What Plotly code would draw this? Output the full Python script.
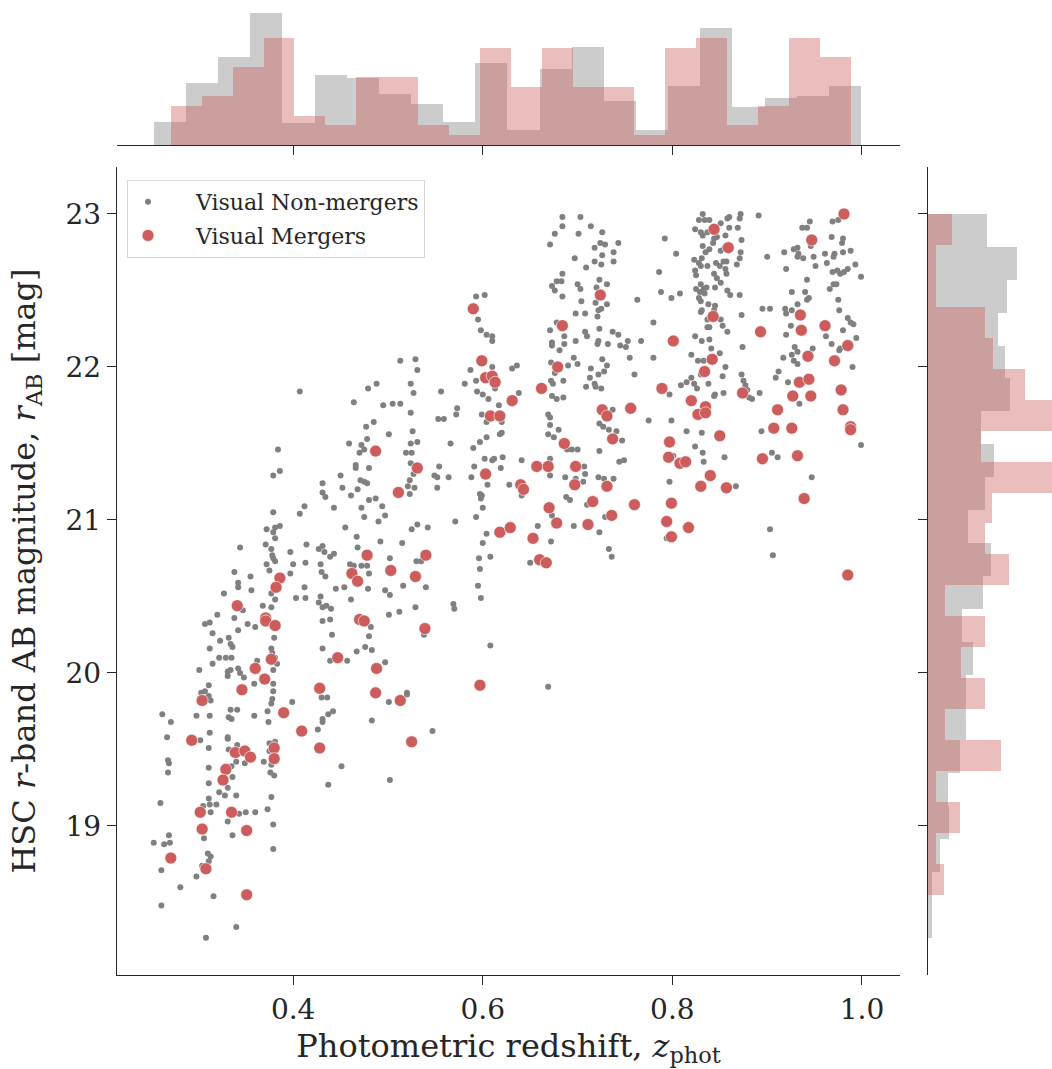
import numpy as np
import plotly.graph_objects as go

# ---------------------------------------------------------------------------
# Visual non-mergers: photometric redshift and HSC r-band AB magnitude
# ---------------------------------------------------------------------------
nonmerger_z = [
    0.407, 0.479, 0.488, 0.464, 0.495, 0.477, 0.485, 0.459, 0.472, 0.478,
    # z ~ 0.67-0.76 strip
    0.684, 0.703, 0.684, 0.714, 0.676, 0.701, 0.726, 0.671, 0.718, 0.724,
    0.729, 0.743, 0.738, 0.697, 0.709, 0.718, 0.726, 0.725, 0.738, 0.684,
    0.678, 0.683, 0.673, 0.676, 0.700, 0.703, 0.723, 0.720, 0.731, 0.684,
    0.704, 0.719, 0.731, 0.722, 0.725, 0.721, 0.698, 0.708, 0.671, 0.678,
    0.686, 0.708, 0.710, 0.723, 0.737, 0.743, 0.698, 0.673, 0.673, 0.686,
    0.681, 0.721, 0.722, 0.732, 0.745, 0.751, 0.753, 0.755, 0.672, 0.696,
    0.700, 0.690, 0.714, 0.726, 0.731, 0.722, 0.728, 0.676, 0.685, 0.713,
    0.709, 0.718, 0.719, 0.725, 0.672, 0.674, 0.673, 0.678, 0.685, 0.669,
    0.671, 0.671, 0.680, 0.669, 0.675, 0.737, 0.723, 0.727, 0.733, 0.741,
    0.747,
    # z ~ 0.50-0.64, bright end
    0.593, 0.602, 0.595, 0.598, 0.604, 0.610, 0.610, 0.513, 0.529, 0.531,
    0.524, 0.527, 0.505, 0.513, 0.524, 0.556, 0.573, 0.572, 0.553,
    0.559, 0.526, 0.501, 0.524, 0.531, 0.566, 0.587, 0.593, 0.610, 0.581,
    0.594, 0.600, 0.606, 0.613, 0.617, 0.631, 0.636, 0.638, 0.599, 0.604,
    0.620, 0.618, 0.620, 0.604, 0.597,
    # z ~ 0.79-0.89 strip
    0.832, 0.828, 0.834, 0.839, 0.851, 0.858, 0.860, 0.872, 0.871, 0.860,
    0.869, 0.824, 0.830, 0.837, 0.832, 0.844, 0.847, 0.856, 0.843, 0.873,
    0.792, 0.804, 0.832, 0.839, 0.835, 0.851, 0.855, 0.872, 0.871, 0.823,
    0.831, 0.828, 0.830, 0.837, 0.846, 0.850, 0.854, 0.857, 0.868, 0.824,
    0.825, 0.844, 0.847, 0.856, 0.857, 0.851, 0.845, 0.825, 0.830, 0.833,
    0.836, 0.829, 0.834, 0.858, 0.861, 0.871, 0.828, 0.830, 0.838, 0.845,
    0.831, 0.830, 0.844, 0.873, 0.837, 0.851, 0.853, 0.837, 0.839, 0.858,
    0.824, 0.831, 0.839, 0.841, 0.850, 0.820, 0.827, 0.833, 0.856, 0.830,
    0.853, 0.838, 0.820, 0.815, 0.809, 0.823, 0.826, 0.844, 0.845, 0.854,
    0.873, 0.875, 0.877, 0.879, 0.875, 0.881, 0.884, 0.892,
    0.763, 0.788, 0.799, 0.808, 0.780, 0.767, 0.780, 0.760, 0.797,
    0.775, 0.799, 0.815, 0.831, 0.786, 0.874,
    # z ~ 0.89-1.00 strip
    0.891, 0.945, 0.937, 0.942, 0.975, 0.969, 0.968, 0.980, 0.979, 0.946,
    0.918, 0.928, 0.932, 0.933, 0.932, 0.938, 0.949, 0.961, 0.970, 0.971,
    0.980, 0.988, 0.993, 0.999, 0.900, 0.920, 0.951, 0.963, 0.969, 0.974,
    0.977, 0.981, 0.985, 0.942, 0.970, 0.973, 0.966, 0.926, 0.940, 0.942,
    0.944, 0.932, 0.895, 0.903, 0.919, 0.920, 0.926, 0.975, 0.976, 0.985,
    0.988, 0.980, 0.991, 0.994, 0.962, 0.968, 0.976, 0.977, 0.990, 0.925,
    0.920, 0.929, 0.932, 0.948, 0.926, 0.928, 0.932, 0.917, 0.912, 0.909,
    0.922, 0.934, 0.894, 0.999,
    # z ~ 0.30-0.50, r ~ 19.9-21.5
    0.384, 0.470, 0.475, 0.379, 0.386, 0.466, 0.466, 0.480, 0.450,
    0.431, 0.452, 0.468, 0.471, 0.475, 0.478, 0.431, 0.434, 0.461, 0.480,
    0.487, 0.494, 0.497, 0.443, 0.412, 0.407, 0.472, 0.475, 0.490, 0.379,
    0.455, 0.386, 0.381, 0.372, 0.379, 0.381, 0.467, 0.468, 0.492, 0.371,
    0.344, 0.414, 0.427, 0.431, 0.433, 0.443, 0.439, 0.397, 0.378, 0.377,
    0.379, 0.381, 0.372, 0.375, 0.400, 0.413, 0.429, 0.460, 0.464, 0.472,
    0.478, 0.430, 0.434, 0.397, 0.480, 0.338, 0.355, 0.342, 0.342, 0.356,
    0.412, 0.445, 0.454, 0.479, 0.497, 0.377, 0.381, 0.327, 0.403, 0.413,
    0.429, 0.427, 0.431, 0.435, 0.440, 0.461, 0.368, 0.377, 0.347, 0.338,
    0.320, 0.312, 0.307, 0.352, 0.360, 0.431, 0.439, 0.482, 0.315, 0.323,
    0.332, 0.334, 0.336, 0.342, 0.380, 0.441, 0.480, 0.312, 0.322, 0.329,
    0.335, 0.377, 0.378, 0.381, 0.362, 0.383, 0.431, 0.439, 0.457, 0.467,
    0.476, 0.483, 0.497, 0.301, 0.315, 0.331, 0.331, 0.334, 0.342, 0.344,
    0.348, 0.379, 0.379, 0.359, 0.311, 0.303, 0.307, 0.379,
    # z ~ 0.50-0.75, r ~ 19.9-21.5
    0.519, 0.525, 0.590, 0.527, 0.524, 0.554,
    0.564, 0.549, 0.552, 0.552, 0.521, 0.523, 0.528, 0.523,
    0.602, 0.612, 0.621, 0.610, 0.591, 0.619, 0.588, 0.605, 0.597, 0.599,
    0.598, 0.600, 0.593, 0.641, 0.628, 0.641, 0.671, 0.671, 0.689, 0.694,
    0.700, 0.723, 0.744, 0.749, 0.707, 0.708, 0.706, 0.698, 0.687, 0.722,
    0.728, 0.738, 0.688, 0.692, 0.710, 0.729, 0.673, 0.696, 0.723, 0.658,
    0.672, 0.571, 0.531, 0.525, 0.542, 0.604, 0.515, 0.600, 0.608, 0.502,
    0.530, 0.535, 0.596, 0.597, 0.650, 0.733, 0.736, 0.516, 0.540,
    0.502, 0.595, 0.598, 0.569, 0.570, 0.529, 0.512, 0.501, 0.538, 0.608,
    0.669, 0.520,
    # z ~ 0.79-0.95, r ~ 20.8-21.5
    0.824, 0.832, 0.833, 0.855, 0.801, 0.797, 0.867, 0.905, 0.911, 0.947,
    0.903, 0.906, 0.794,
    # faint end, z ~ 0.25-0.48
    0.311, 0.313, 0.378, 0.399, 0.377, 0.373, 0.374, 0.334, 0.341, 0.332,
    0.335, 0.359, 0.298, 0.312, 0.262, 0.271, 0.267, 0.312, 0.302, 0.331,
    0.331, 0.341, 0.311, 0.332, 0.375, 0.381, 0.375, 0.369, 0.377, 0.340,
    0.349, 0.335, 0.268, 0.269, 0.268, 0.311, 0.311, 0.336, 0.376, 0.380,
    0.331, 0.322, 0.328, 0.340, 0.377, 0.311, 0.305, 0.312, 0.319, 0.313,
    0.343, 0.350, 0.360, 0.373, 0.331, 0.379, 0.260, 0.269, 0.253, 0.264,
    0.270, 0.306, 0.336, 0.379, 0.310, 0.313, 0.311, 0.304, 0.261, 0.298,
    0.281, 0.316, 0.261, 0.340, 0.308, 0.426, 0.431, 0.431, 0.437, 0.442,
    0.430, 0.436, 0.483, 0.451, 0.437,
    0.501, 0.520, 0.547, 0.502,
]

nonmerger_r = [
    21.84, 21.86, 21.89, 21.77, 21.75, 21.61, 21.64, 21.50, 21.49, 21.53,
    22.98, 22.98, 22.92, 22.92, 22.87, 22.87, 22.88, 22.80, 22.78, 22.81,
    22.80, 22.81, 22.75, 22.71, 22.65, 22.69, 22.73, 22.67, 22.69, 22.61,
    22.56, 22.56, 22.53, 22.50, 22.54, 22.51, 22.57, 22.52, 22.54, 22.46,
    22.43, 22.42, 22.41, 22.37, 22.38, 22.33, 22.35, 22.35, 22.24, 22.29,
    22.20, 22.23, 22.20, 22.25, 22.23, 22.21, 22.17, 22.16, 22.14, 22.15,
    22.11, 22.15, 22.17, 22.15, 22.14, 22.13, 22.17, 22.06, 22.03, 22.06,
    22.02, 22.01, 21.99, 22.05, 22.01, 21.95, 21.97, 21.96, 21.91, 21.93,
    21.87, 21.89, 21.87, 21.86, 21.91, 21.89, 21.81, 21.79, 21.80, 21.69,
    21.67, 21.62, 21.59, 21.56, 21.54, 21.72, 21.63, 21.61, 21.59, 21.58,
    21.52,
    22.46, 22.47, 22.31, 22.24, 22.21, 22.20, 22.17, 22.04, 22.05, 21.98,
    21.89, 21.83, 21.76, 21.76, 21.70, 21.84, 21.73, 21.69, 21.66,
    21.66, 21.58, 21.56, 21.50, 21.51, 21.50, 21.98, 21.91, 22.00, 21.89,
    21.84, 21.82, 21.79, 21.86, 21.75, 21.99, 22.01, 21.83, 21.69, 21.64,
    21.64, 21.56, 21.57, 21.54, 21.51,
    23.00, 22.96, 22.96, 22.96, 22.94, 22.97, 22.98, 23.00, 22.97, 22.91,
    22.91, 22.90, 22.88, 22.88, 22.86, 22.84, 22.85, 22.86, 22.81, 22.83,
    22.84, 22.74, 22.79, 22.77, 22.75, 22.76, 22.78, 22.75, 22.71, 22.70,
    22.71, 22.68, 22.66, 22.66, 22.68, 22.66, 22.69, 22.69, 22.67, 22.63,
    22.60, 22.61, 22.58, 22.64, 22.61, 22.55, 22.52, 22.51, 22.54, 22.51,
    22.52, 22.49, 22.48, 22.50, 22.47, 22.47, 22.45, 22.43, 22.41, 22.40,
    22.37, 22.36, 22.37, 22.34, 22.31, 22.31, 22.27, 22.26, 22.26, 22.23,
    22.20, 22.17, 22.18, 22.12, 22.09, 22.08, 22.04, 22.04, 22.00, 21.95,
    21.94, 21.89, 21.93, 21.90, 21.88, 21.89, 21.86, 21.81, 21.82, 21.83,
    21.95, 21.91, 21.88, 21.85, 21.82, 21.80, 21.79, 21.83,
    22.44, 22.49, 22.45, 22.48, 22.29, 22.17, 22.06, 21.95, 21.82,
    21.65, 21.65, 21.58, 21.57, 22.62, 22.13,
    22.99, 22.95, 22.91, 22.91, 22.96, 22.95, 22.85, 22.84, 22.81, 22.79,
    22.75, 22.77, 22.78, 22.74, 22.72, 22.71, 22.72, 22.74, 22.72, 22.74,
    22.75, 22.76, 22.67, 22.59, 22.72, 22.64, 22.66, 22.68, 22.62, 22.63,
    22.61, 22.62, 22.64, 22.57, 22.54, 22.54, 22.51, 22.49, 22.49, 22.44,
    22.45, 22.41, 22.38, 22.38, 22.38, 22.35, 22.37, 22.44, 22.37, 22.32,
    22.29, 22.24, 22.28, 22.19, 22.20, 22.15, 22.11, 22.12, 22.00, 22.27,
    22.21, 22.13, 22.10, 22.12, 22.08, 22.04, 22.02, 22.06, 21.97, 21.93,
    21.90, 21.76, 21.58, 21.49,
    21.46, 21.44, 21.46, 21.29, 21.32, 21.36, 21.34, 21.34, 21.29,
    21.24, 21.21, 21.20, 21.26, 21.25, 21.24, 21.18, 21.15, 21.16, 21.13,
    21.14, 21.09, 21.03, 21.08, 21.09, 21.04, 21.08, 21.02, 20.99, 21.05,
    20.95, 20.96, 20.95, 20.94, 20.92, 20.88, 20.89, 20.82, 20.86, 20.84,
    20.82, 20.84, 20.81, 20.83, 20.79, 20.78, 20.76, 20.79, 20.77, 20.81,
    20.75, 20.73, 20.71, 20.67, 20.71, 20.72, 20.71, 20.71, 20.70, 20.70,
    20.70, 20.66, 20.63, 20.65, 20.65, 20.66, 20.63, 20.59, 20.56, 20.54,
    20.56, 20.55, 20.56, 20.55, 20.54, 20.52, 20.48, 20.52, 20.49, 20.49,
    20.50, 20.46, 20.43, 20.44, 20.42, 20.48, 20.44, 20.43, 20.41, 20.36,
    20.38, 20.33, 20.32, 20.32, 20.30, 20.34, 20.35, 20.30, 20.26, 20.21,
    20.23, 20.19, 20.17, 20.28, 20.23, 20.25, 20.24, 20.16, 20.10, 20.10,
    20.10, 20.16, 20.13, 20.10, 20.08, 20.06, 20.16, 20.08, 20.08, 20.14,
    20.17, 20.15, 20.07, 20.02, 20.06, 20.01, 19.98, 20.02, 20.03, 20.00,
    19.97, 20.02, 19.93, 19.93, 19.92, 19.87, 19.88, 19.88,
    21.44, 21.44, 21.47, 21.30, 21.37, 21.35,
    21.28, 21.29, 21.28, 21.21, 21.22, 21.26, 21.21, 21.17,
    21.40, 21.40, 21.41, 21.39, 21.35, 21.34, 21.28, 21.23, 21.17, 21.16,
    21.14, 21.08, 21.02, 21.39, 21.23, 21.16, 21.40, 21.29, 21.46, 21.46,
    21.46, 21.45, 21.38, 21.39, 21.35, 21.30, 21.25, 21.27, 21.28, 21.28,
    21.27, 21.27, 21.15, 21.13, 21.10, 21.02, 21.03, 20.96, 20.92, 20.96,
    20.86, 20.99, 20.97, 20.94, 20.95, 20.91, 20.85, 20.85, 20.76, 20.75,
    20.73, 20.73, 20.75, 20.68, 20.72, 20.81, 20.76, 20.57, 20.56,
    20.51, 20.57, 20.49, 20.45, 20.42, 20.43, 20.40, 20.38, 20.25, 20.18,
    19.91, 19.87,
    21.48, 21.44, 21.38, 21.41, 21.42, 21.25, 21.22, 21.44, 21.41, 21.28,
    20.94, 20.77, 20.88,
    19.85, 19.82, 19.83, 19.81, 19.80, 19.75, 19.68, 19.76, 19.76, 19.71,
    19.70, 19.72, 19.72, 19.72, 19.73, 19.68, 19.58, 19.61, 19.56, 19.58,
    19.57, 19.53, 19.51, 19.50, 19.54, 19.55, 19.49, 19.42, 19.40, 19.42,
    19.41, 19.39, 19.43, 19.41, 19.35, 19.38, 19.28, 19.32, 19.35, 19.33,
    19.25, 19.22, 19.20, 19.20, 19.19, 19.18, 19.13, 19.14, 19.14, 19.09,
    19.08, 19.09, 19.09, 19.11, 19.03, 19.01, 19.15, 18.94, 18.89, 18.88,
    18.89, 18.92, 18.94, 18.85, 18.82, 18.80, 18.77, 18.74, 18.71, 18.67,
    18.60, 18.54, 18.48, 18.34, 18.27, 19.63, 19.70, 19.68, 19.73, 19.75,
    19.84, 19.84, 19.69, 19.39, 19.27,
    19.81, 19.86, 19.62, 19.30,
]

# ---------------------------------------------------------------------------
# Visual mergers
# ---------------------------------------------------------------------------
merger_z = [
    0.590, 0.724, 0.684, 0.599, 0.679, 0.603, 0.610, 0.613, 0.662, 0.631,
    0.608, 0.618, 0.726, 0.731, 0.756, 0.686, 0.737, 0.981, 0.844, 0.947,
    0.859, 0.843, 0.935, 0.893, 0.936, 0.961, 0.801, 0.985, 0.842, 0.943,
    0.971, 0.834, 0.789, 0.934, 0.944, 0.874, 0.820, 0.978, 0.927, 0.946,
    0.835, 0.827, 0.835, 0.911, 0.980, 0.907, 0.926, 0.988, 0.988, 0.797,
    0.850, 0.531, 0.511, 0.603, 0.657, 0.669, 0.698, 0.640, 0.643, 0.697,
    0.731, 0.716, 0.670, 0.678, 0.711, 0.736, 0.760, 0.618, 0.629, 0.653,
    0.540, 0.503, 0.529, 0.660, 0.667, 0.539, 0.597, 0.796, 0.808, 0.814,
    0.840, 0.830, 0.857, 0.895, 0.932, 0.939, 0.799, 0.794, 0.817, 0.799,
    0.985, 0.487, 0.478, 0.462, 0.468, 0.386, 0.382, 0.341, 0.371, 0.371,
    0.381, 0.470, 0.475, 0.377, 0.447, 0.360, 0.370, 0.488, 0.346, 0.428,
    0.487, 0.304, 0.390, 0.409, 0.428, 0.293, 0.339, 0.349, 0.355, 0.380,
    0.380, 0.329, 0.326, 0.302, 0.335, 0.304, 0.351, 0.271, 0.308, 0.351,
    0.513, 0.525,
]

merger_r = [
    22.38, 22.47, 22.27, 22.04, 22.00, 21.93, 21.94, 21.90, 21.86, 21.78,
    21.68, 21.68, 21.72, 21.68, 21.73, 21.50, 21.53, 23.00, 22.90, 22.83,
    22.78, 22.33, 22.34, 22.23, 22.24, 22.27, 22.17, 22.14, 22.05, 22.07,
    22.04, 21.97, 21.86, 21.90, 21.92, 21.83, 21.78, 21.85, 21.81, 21.81,
    21.74, 21.69, 21.70, 21.72, 21.72, 21.60, 21.60, 21.61, 21.59, 21.51,
    21.55, 21.34, 21.18, 21.30, 21.35, 21.35, 21.35, 21.23, 21.20, 21.23,
    21.22, 21.12, 21.08, 20.98, 20.97, 21.03, 21.10, 20.92, 20.95, 20.88,
    20.77, 20.67, 20.63, 20.74, 20.72, 20.29, 19.92, 21.41, 21.37, 21.38,
    21.29, 21.22, 21.21, 21.40, 21.42, 21.14, 21.11, 20.99, 20.95, 20.89,
    20.64, 21.45, 20.77, 20.65, 20.60, 20.62, 20.56, 20.44, 20.36, 20.34,
    20.31, 20.35, 20.34, 20.09, 20.10, 20.03, 19.96, 20.03, 19.89, 19.90,
    19.87, 19.82, 19.74, 19.62, 19.51, 19.56, 19.48, 19.49, 19.45, 19.51,
    19.44, 19.37, 19.30, 19.09, 19.09, 18.98, 18.97, 18.79, 18.72, 18.55,
    19.82, 19.55,
]

# ---------------------------------------------------------------------------
# Marginal distributions (probability density, 22 equal bins spanning each
# sample's own range)
# ---------------------------------------------------------------------------
nonmerger_z_density = [0.53, 1.42, 2.03, 3.04, 0.50, 1.61, 1.55, 1.17, 0.94, 0.53, 1.88,
                       0.35, 1.76, 2.25, 1.02, 0.35, 1.36, 2.70, 0.87, 1.09, 1.13, 1.36]
merger_z_density = [0.90, 1.12, 1.80, 2.47, 0.67, 0.45, 1.57, 1.57, 0.45, 0.24, 2.24,
                    1.34, 2.24, 1.34, 1.34, 0.24, 2.24, 2.47, 0.45, 0.90, 2.47, 2.02]

# ordered from the bright end (r = 23) to the faint end
nonmerger_r_density = [0.267, 0.400, 0.357, 0.315, 0.345, 0.368, 0.240, 0.297, 0.255, 0.180, 0.284,
                       0.248, 0.153, 0.203, 0.171, 0.171, 0.144, 0.090, 0.095, 0.054, 0.018, 0.018]
merger_r_density = [0.109, 0.037, 0.037, 0.255, 0.293, 0.436, 0.564, 0.240, 0.564, 0.288, 0.255,
                    0.364, 0.075, 0.255, 0.147, 0.255, 0.075, 0.327, 0.037, 0.145, 0.037, 0.072]

z_ticks = [0.4, 0.6, 0.8, 1.0]
r_ticks = [19, 20, 21, 22, 23]

# ---------------------------------------------------------------------------
FONT = "DejaVu Serif"
INK = "#262626"
GREY = "#808080"
RED = "#CD5C5C"
GREY_FILL = "rgba(128,128,128,0.4)"
RED_FILL = "rgba(205,92,92,0.4)"
GAP = "\u00a0" * 4  # room between legend symbol and label

W, H = 1052, 1069


def px_x(p):
    return p / W


def px_y(p):
    return 1 - p / H


main_x_dom = [px_x(117), px_x(900)]
main_y_dom = [px_y(975), px_y(167)]
top_y_dom = [px_y(145), 1.0]
right_x_dom = [px_x(928), 1.0]

z_range = [0.2142, 1.0401]
r_range = [18.026, 23.307]


def bin_layout(values, n):
    e = np.linspace(min(values), max(values), n + 1)
    return (e[:-1] + e[1:]) / 2, np.diff(e)


fig = go.Figure()

# top marginal: redshift
for vals, dens, fill in [(nonmerger_z, nonmerger_z_density, GREY_FILL),
                         (merger_z, merger_z_density, RED_FILL)]:
    c, w = bin_layout(vals, len(dens))
    fig.add_trace(go.Bar(x=c, y=dens, width=w, xaxis="x2", yaxis="y2",
                         marker=dict(color=fill, line=dict(width=0)),
                         showlegend=False, hoverinfo="skip"))

# right marginal: magnitude (densities listed bright -> faint)
for vals, dens, fill in [(nonmerger_r, nonmerger_r_density, GREY_FILL),
                         (merger_r, merger_r_density, RED_FILL)]:
    c, w = bin_layout(vals, len(dens))
    fig.add_trace(go.Bar(y=c[::-1], x=dens, width=w[::-1], orientation="h",
                         xaxis="x3", yaxis="y3",
                         marker=dict(color=fill, line=dict(width=0)),
                         showlegend=False, hoverinfo="skip"))

# joint scatter
fig.add_trace(go.Scatter(x=nonmerger_z, y=nonmerger_r, mode="markers",
                         name=GAP + "Visual Non-mergers", legendgroup="non",
                         marker=dict(color=GREY, size=6, line=dict(width=0))))
fig.add_trace(go.Scatter(x=merger_z, y=merger_r, mode="markers",
                         name=GAP + "Visual Mergers", legendgroup="mer",
                         marker=dict(color=RED, size=12, line=dict(width=0.6, color="white"))))

axis_common = dict(showgrid=False, zeroline=False, showline=True, linecolor=INK,
                   linewidth=1.4, ticks="outside", ticklen=9, tickwidth=1.2,
                   tickcolor=INK)

fig.update_layout(
    width=W, height=H, autosize=False,
    margin=dict(l=0, r=0, t=0, b=0),
    paper_bgcolor="white", plot_bgcolor="white",
    barmode="overlay", bargap=0,
    font=dict(family=FONT, color=INK),
    xaxis=dict(domain=main_x_dom, range=z_range, anchor="y",
               tickvals=z_ticks, ticktext=[f"{t:.1f}" for t in z_ticks],
               tickfont=dict(size=28, family=FONT, color=INK),
               title=dict(text="Photometric redshift, <i>z</i><sub>phot</sub>",
                          font=dict(size=32, family=FONT, color=INK), standoff=9),
               **axis_common),
    yaxis=dict(domain=main_y_dom, range=r_range, anchor="x",
               tickvals=r_ticks, ticktext=[str(t) for t in r_ticks],
               tickfont=dict(size=28, family=FONT, color=INK),
               title=dict(text="HSC <i>r</i>-band AB magnitude, <i>r</i><sub>AB</sub> [mag]",
                          font=dict(size=32, family=FONT, color=INK), standoff=20),
               **axis_common),
    xaxis2=dict(domain=main_x_dom, range=z_range, anchor="y2",
                tickvals=z_ticks, showticklabels=False, **axis_common),
    yaxis2=dict(domain=top_y_dom, range=[0, 3.34], anchor="x2", visible=False),
    xaxis3=dict(domain=right_x_dom, range=[0, 0.559], anchor="y3", visible=False),
    yaxis3=dict(domain=main_y_dom, range=r_range, anchor="x3",
                tickvals=r_ticks, showticklabels=False, **axis_common),
    legend=dict(x=px_x(127), y=px_y(180), xanchor="left", yanchor="top",
                bgcolor="white", bordercolor="#d6d6d6", borderwidth=1,
                font=dict(size=22, family=FONT, color=INK),
                itemsizing="trace", itemwidth=30, traceorder="grouped",
                tracegroupgap=2),
    showlegend=True,
)

fig.write_html("out.html")
